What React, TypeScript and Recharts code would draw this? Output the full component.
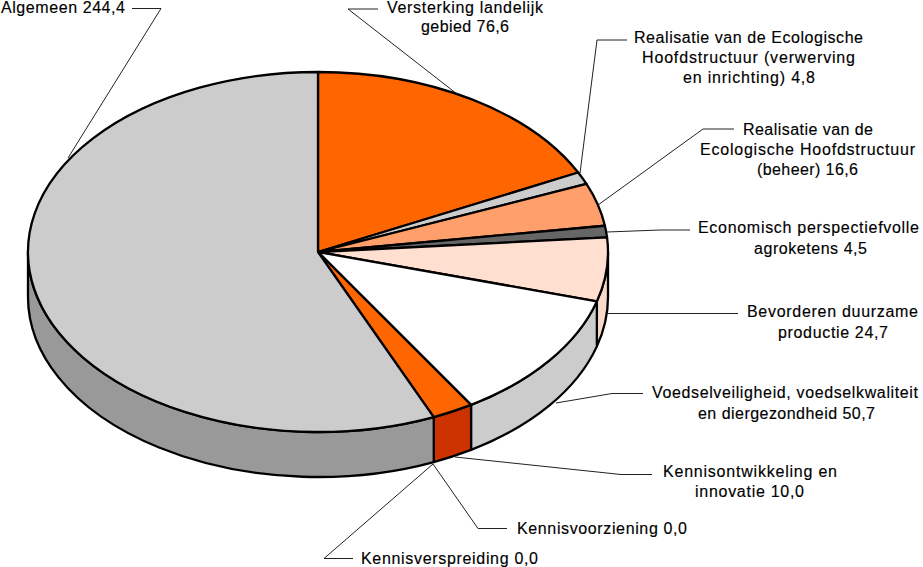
import { PieChart, Pie } from 'recharts'

// budget items, clockwise from 12 o'clock
const names = [
  'Versterking landelijk gebied',
  'Realisatie EHS (verwerving en inrichting)',
  'Realisatie EHS (beheer)',
  'Economisch perspectiefvolle agroketens',
  'Bevorderen duurzame productie',
  'Voedselveiligheid, voedselkwaliteit en diergezondheid',
  'Kennisontwikkeling en innovatie',
  'Kennisvoorziening',
  'Kennisverspreiding',
  'Algemeen',
]
const values = [76.6, 4.8, 16.6, 4.5, 24.7, 50.7, 10.0, 0.0, 0.0, 244.4]
const topColors = ['#FF6600', '#CCCCCC', '#FF9F6B', '#666666', '#FFDFCF', '#FFFFFF', '#FF6600', '#FF6600', '#FF6600', '#CCCCCC']
const wallColors = ['#CC5200', '#A3A3A3', '#CC7A52', '#525252', '#F7DAC9', '#CCCCCC', '#CC3300', '#CC3300', '#CC3300', '#999999']

const labelLines = [
  ['Versterking landelijk', 'gebied 76,6'],
  ['Realisatie van de Ecologische', 'Hoofdstructuur (verwerving', 'en inrichting) 4,8'],
  ['Realisatie van de', 'Ecologische Hoofdstructuur', '(beheer) 16,6'],
  ['Economisch perspectiefvolle', 'agroketens 4,5'],
  ['Bevorderen duurzame', 'productie 24,7'],
  ['Voedselveiligheid, voedselkwaliteit', 'en diergezondheid 50,7'],
  ['Kennisontwikkeling en', 'innovatie 10,0'],
  ['Kennisvoorziening 0,0'],
  ['Kennisverspreiding 0,0'],
  ['Algemeen 244,4'],
]

// label layout per line: left edge, right edge, baseline
const lineBoxes = [
  [[387, 543, 13], [421, 509, 32]],
  [[634, 863, 43], [642, 855, 63], [683, 815, 83]],
  [[743, 873, 135], [700, 915, 155], [757, 858, 175]],
  [[698, 919, 233], [754, 867, 254]],
  [[747, 918, 317], [778, 888, 338]],
  [[652, 918, 398], [698, 875, 419]],
  [[663, 837, 477], [695, 804, 497]],
  [[517, 687, 534]],
  [[361, 538, 564]],
  [[1, 125, 13]],
]
const leaders = [
  [[457, 94], [348, 9], [378, 9]],
  [[580, 173], [597, 40], [627, 40]],
  [[598, 205], [703, 129], [734, 129]],
  [[607, 232], [660, 230], [690, 230]],
  [[608, 313.5], [676, 313.5], [738, 313.5]],
  [[556, 403], [612, 393.5], [643, 393.5]],
  [[455, 457], [621, 474.5], [652, 474.5]],
  [[433, 464], [478, 528.5], [507, 528.5]],
  [[433, 464], [324, 558.5], [353, 558.5]],
  [[68, 158], [161, 8.5], [132, 8.5]],
]

const WIDTH = 923
const HEIGHT = 567
const CX = 318
const CY = 252
const RX = 290
const RY = 180
const DEPTH = 45

const topData = names.map((name, i) => ({ name, value: values[i], fill: topColors[i] }))
const wallData = names.map((name, i) => ({ name, value: values[i], fill: wallColors[i] }))

// recharts angles are counter-clockwise from 3 o'clock, squash them onto the ellipse
const pt = (angle: number, drop = 0) => {
  const rad = (angle * Math.PI) / 180
  return { x: CX + RX * Math.cos(rad), y: CY - RY * Math.sin(rad) + drop }
}

function TopSector(props: any) {
  const { startAngle, endAngle, fill } = props
  if (startAngle === endAngle) return null
  const a = pt(startAngle)
  const b = pt(endAngle)
  const large = Math.abs(startAngle - endAngle) > 180 ? 1 : 0
  const d = `M${CX},${CY} L${a.x},${a.y} A${RX},${RY} 0 ${large} 1 ${b.x},${b.y} Z`
  return <path d={d} fill={fill} stroke="#000" strokeWidth={2.3} strokeLinejoin="round" />
}

function WallSector(props: any) {
  const { startAngle, endAngle, fill } = props
  // only the front half of the rim is visible: angles 0 to -180
  const from = Math.min(startAngle, 0)
  const to = Math.max(endAngle, -180)
  if (from <= to) return null
  const a = pt(from)
  const b = pt(to)
  const c = pt(to, DEPTH)
  const e = pt(from, DEPTH)
  const d = `M${a.x},${a.y} A${RX},${RY} 0 0 1 ${b.x},${b.y} L${c.x},${c.y} A${RX},${RY} 0 0 0 ${e.x},${e.y} Z`
  return <path d={d} fill={fill} stroke="#000" strokeWidth={2.3} strokeLinejoin="round" />
}

function SliceLabel(props: any) {
  const { index } = props
  return (
    <g>
      <polyline
        points={leaders[index].map((p) => p.join(',')).join(' ')}
        fill="none"
        stroke="#222"
        strokeWidth={1}
      />
      {labelLines[index].map((line, i) => {
        const [left, right, base] = lineBoxes[index][i]
        return (
          <text
            key={i}
            x={left}
            y={base}
            textLength={right - left}
            lengthAdjust="spacing"
            textAnchor="start"
            fontFamily="Liberation Sans"
            fontSize={16}
            fill="#000"
            stroke="#000"
            strokeWidth={0.15}
          >
            {line}
          </text>
        )
      })}
    </g>
  )
}

export default function App() {
  return (
    <div style={{ position: 'absolute', left: 0, top: 0, width: WIDTH, height: HEIGHT, background: '#fff' }}>
      <PieChart width={WIDTH} height={HEIGHT} margin={{ top: 0, right: 0, bottom: 0, left: 0 }}>
        <Pie
          data={wallData}
          dataKey="value"
          nameKey="name"
          cx={CX}
          cy={CY}
          innerRadius={0}
          outerRadius={RX}
          startAngle={90}
          endAngle={-270}
          paddingAngle={0}
          shape={WallSector}
          isAnimationActive={false}
        />
        <Pie
          data={topData}
          dataKey="value"
          nameKey="name"
          cx={CX}
          cy={CY}
          innerRadius={0}
          outerRadius={RX}
          startAngle={90}
          endAngle={-270}
          paddingAngle={0}
          shape={TopSector}
          label={SliceLabel}
          labelLine={false}
          isAnimationActive={false}
        />
      </PieChart>
    </div>
  )
}
